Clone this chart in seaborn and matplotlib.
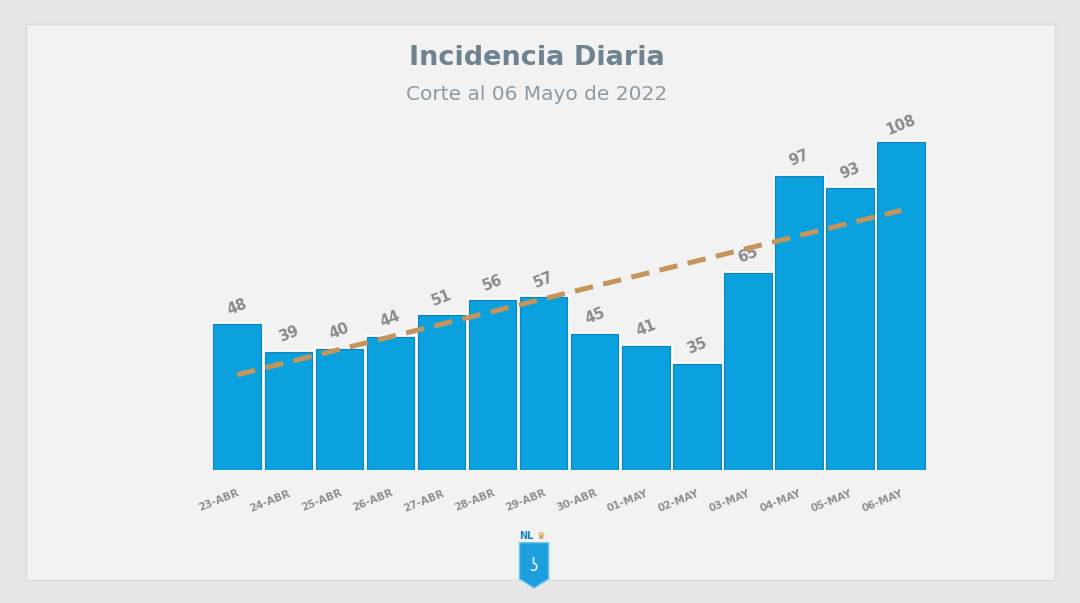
import numpy as np
import matplotlib
matplotlib.use("Agg")
import matplotlib.pyplot as plt
import matplotlib.patheffects as pe
import seaborn as sns
from matplotlib.patches import Rectangle, Polygon

# Data
fechas = ["23-ABR", "24-ABR", "25-ABR", "26-ABR", "27-ABR", "28-ABR", "29-ABR",
          "30-ABR", "01-MAY", "02-MAY", "03-MAY", "04-MAY", "05-MAY", "06-MAY"]
casos = [48, 39, 40, 44, 51, 56, 57, 45, 41, 35, 65, 97, 93, 108]

sns.set_style("white")
plt.rcParams['font.family'] = ['DejaVu Sans']

fig = plt.figure(figsize=(10.8, 6.03), dpi=100)
fig.patch.set_facecolor("#e7e7e7")

# card background
card = Rectangle((0.024, 0.038), 0.953, 0.922, transform=fig.transFigure,
                 facecolor="#f2f2f2", edgecolor="#dcdcdc", lw=1, zorder=-5)
fig.add_artist(card)

ax = fig.add_axes([0.196, 0.2206, 0.662, 0.6136])
ax.set_facecolor("none")
ax.set_zorder(2)

sns.barplot(x=fechas, y=casos, color="#0aa1de", width=0.93, saturation=1,
            edgecolor="#1583bd", linewidth=0.9, ax=ax)
for p in ax.patches:
    p.set_path_effects([pe.Stroke(linewidth=3.5, foreground="white"), pe.Normal()])

# value labels
for i, v in enumerate(casos):
    ax.annotate(str(v), (i, v), xytext=(0, 12.5), textcoords="offset points",
                ha="center", va="center", rotation=22, fontsize=10.5,
                fontweight="bold", color="#8a8a8a", annotation_clip=False)

# linear trend line
xs = np.arange(len(casos))
m, b = np.polyfit(xs, casos, 1)
ax.plot(xs, m * xs + b, color="#c4955a", lw=3.6, dashes=(3.7, 2.1),
        solid_capstyle="butt", zorder=5)

ax.set_xlim(-0.5, len(casos) - 0.5)
ax.set_ylim(0, 122)
ax.set_yticks([])
ax.set_xlabel("")
ax.set_ylabel("")
sns.despine(ax=ax, left=True, bottom=True)
ax.tick_params(axis="x", length=0, pad=13)
plt.setp(ax.get_xticklabels(), rotation=22, ha="right", rotation_mode="anchor",
         fontsize=7.5, fontweight="bold", color="#8f8f8f")

# titles
fig.text(0.497, 0.903, "Incidencia Diaria", ha="center", va="center",
         fontsize=19.5, fontweight="bold", color="#6e838f")
fig.text(0.497, 0.843, "Corte al 06 Mayo de 2022", ha="center", va="center",
         fontsize=14.5, color="#8d9aa3")

# small logo
shield = Polygon([(0.481, 0.100), (0.508, 0.100), (0.508, 0.040),
                  (0.4945, 0.025), (0.481, 0.040)], closed=True,
                 transform=fig.transFigure, facecolor="#1c9fdc", edgecolor="#6cc4ee", lw=1)
fig.add_artist(shield)
fig.text(0.487, 0.103, "NL", ha="center", va="bottom", fontsize=7,
         fontweight="bold", color="#1c86c4")
fig.text(0.5015, 0.103, "♛", ha="center", va="bottom", fontsize=7,
         color="#c49a3c")
fig.text(0.4945, 0.062, "ʖ", ha="center", va="center", fontsize=12,
         color="white")

fig.savefig("out.png", dpi=100, facecolor=fig.get_facecolor())
